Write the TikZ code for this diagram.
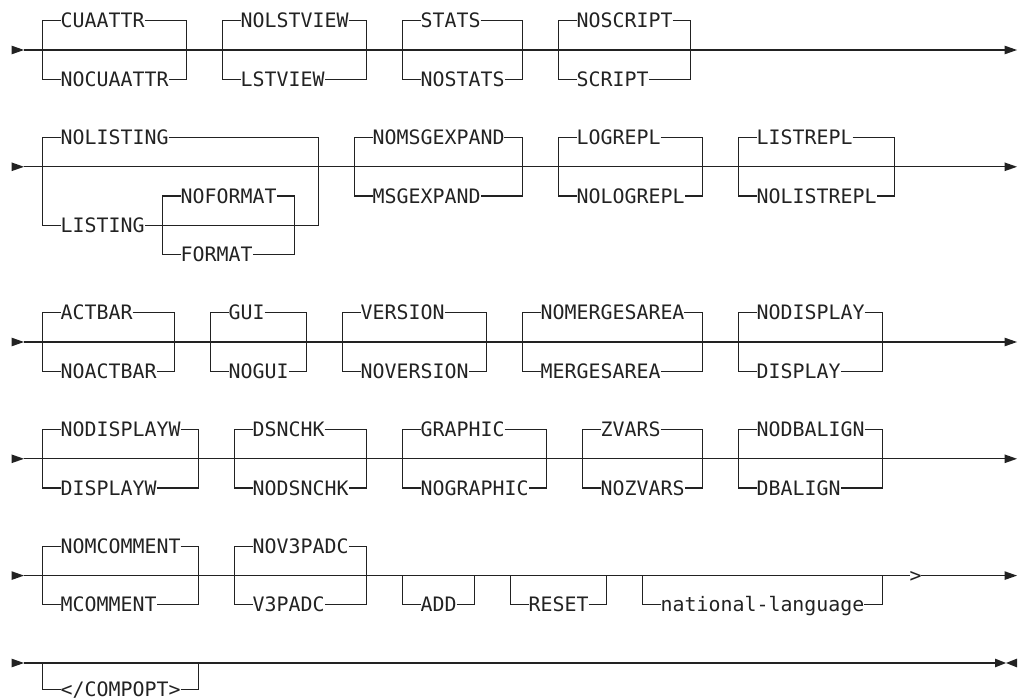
\documentclass[tikz,border=0pt]{standalone}
\usepackage{fontspec}
\newfontfamily\railfont{DejaVu Sans Mono}
\usepackage{xcolor}
\usepackage{tikz}
\usetikzlibrary{calc}
\definecolor{railc}{HTML}{222222}
\tikzset{
  rl/.style={line width=1.2pt,railc},
  kw/.style={font=\railfont\fontsize{19.9}{20}\selectfont,text=railc,inner sep=0pt,outer sep=0pt,anchor=west,text height=14.2pt,text depth=0pt}
}
% two-way choice: name, left x, main y, upper, lower, chars
\newcommand{\choicebox}[6]{%
  \node[kw] (#1-u) at ({#2+18},{#3-29.2}) {#4};
  \node[kw] (#1-l) at ({#2+18},{#3+29.2}) {#5};
  \draw[rl] (#1-u.west) -- ({#2},{#3-29.2}) -- ({#2},{#3+29.2}) -- (#1-l.west);
  \draw[rl] (#1-u.east) -- ({#2+(#6+3)*12},{#3-29.2}) -- ({#2+(#6+3)*12},{#3+29.2}) -- (#1-l.east);
}
% optional item below the line: [drop], name, left x, main y, text, chars
\newcommand{\optbox}[6][29.2]{%
  \node[kw] (#2) at ({#3+18},{#4+#1}) {#5};
  \draw[rl] ({#3},{#4}) -- ({#3},{#4+#1}) -- (#2.west);
  \draw[rl] (#2.east) -- ({#3+(#6+3)*12},{#4+#1}) -- ({#3+(#6+3)*12},{#4});
}
\newcommand{\railin}[1]{\fill[railc] (11.5,{#1-4.4}) -- (24,{#1}) -- (11.5,{#1+4.4}) -- cycle;}
\newcommand{\railout}[1]{\fill[railc] (1004.5,{#1-4.4}) -- (1017,{#1}) -- (1004.5,{#1+4.4}) -- cycle;}

\begin{document}
\begin{tikzpicture}[x=1pt,y=-1pt]
\useasboundingbox (0,0) rectangle (1019,700);

% row 1
\railin{50}
\coordinate (s1) at (24,50); \coordinate (e1) at (1005,50);
\draw[rl] (s1) -- (e1);
\railout{50}
\choicebox{cua}{42.7}{50}{CUAATTR}{NOCUAATTR}{9}
\choicebox{lst}{222.7}{50}{NOLSTVIEW}{LSTVIEW}{9}
\choicebox{sta}{402.7}{50}{STATS}{NOSTATS}{7}
\choicebox{scr}{558.7}{50}{NOSCRIPT}{SCRIPT}{8}

% row 2
\railin{166.8}
\coordinate (s2) at (24,166.8); \coordinate (e2) at (1005,166.8);
\draw[rl] (s2) -- (e2);
\railout{166.8}
\node[kw] (nolisting) at (60.7,137.6) {NOLISTING};
\node[kw] (listing) at (60.7,225.2) {LISTING};
\draw[rl] (nolisting.west) -- (42.7,137.6) -- (42.7,225.2) -- (listing.west);
\draw[rl] (nolisting.east) -- (318.7,137.6) -- (318.7,225.2) -- (listing.east);
\node[kw] (noformat) at (180.7,196) {NOFORMAT};
\node[kw] (format) at (180.7,254.4) {FORMAT};
\draw[rl] (noformat.west) -- (162.7,196) -- (162.7,254.4) -- (format.west);
\draw[rl] (noformat.east) -- (294.7,196) -- (294.7,254.4) -- (format.east);
\choicebox{msg}{354.7}{166.8}{NOMSGEXPAND}{MSGEXPAND}{11}
\choicebox{log}{558.7}{166.8}{LOGREPL}{NOLOGREPL}{9}
\choicebox{lrp}{738.7}{166.8}{LISTREPL}{NOLISTREPL}{10}

% row 3
\railin{342}
\coordinate (s3) at (24,342); \coordinate (e3) at (1005,342);
\draw[rl] (s3) -- (e3);
\railout{342}
\choicebox{act}{42.7}{342}{ACTBAR}{NOACTBAR}{8}
\choicebox{gui}{210.7}{342}{GUI}{NOGUI}{5}
\choicebox{ver}{342.7}{342}{VERSION}{NOVERSION}{9}
\choicebox{mrg}{522.7}{342}{NOMERGESAREA}{MERGESAREA}{12}
\choicebox{dsp}{738.7}{342}{NODISPLAY}{DISPLAY}{9}

% row 4
\railin{458.8}
\coordinate (s4) at (24,458.8); \coordinate (e4) at (1005,458.8);
\draw[rl] (s4) -- (e4);
\railout{458.8}
\choicebox{dpw}{42.7}{458.8}{NODISPLAYW}{DISPLAYW}{10}
\choicebox{dsn}{234.7}{458.8}{DSNCHK}{NODSNCHK}{8}
\choicebox{gra}{402.7}{458.8}{GRAPHIC}{NOGRAPHIC}{9}
\choicebox{zva}{582.7}{458.8}{ZVARS}{NOZVARS}{7}
\choicebox{dba}{738.7}{458.8}{NODBALIGN}{DBALIGN}{9}

% row 5
\railin{575.6}
\coordinate (s5) at (24,575.6); \coordinate (e5) at (1005,575.6);
\node[kw] (gt) at (909.5,575.6) {>};
\draw[rl] (s5) -- (gt.west);
\draw[rl] (gt.east) -- (e5);
\railout{575.6}
\choicebox{mcm}{42.7}{575.6}{NOMCOMMENT}{MCOMMENT}{10}
\choicebox{v3p}{234.7}{575.6}{NOV3PADC}{V3PADC}{8}
\optbox{add}{402.7}{575.6}{ADD}{3}
\optbox{rst}{510.7}{575.6}{RESET}{5}
\optbox{nat}{642.7}{575.6}{national-language}{17}

% row 6
\railin{663}
\coordinate (s6) at (24,663); \coordinate (e6) at (995,663);
\draw[rl] (s6) -- (e6);
\fill[railc] (995,658.6) -- (1006,663) -- (995,667.4) -- cycle;
\fill[railc] (1017,658.6) -- (1006,663) -- (1017,667.4) -- cycle;
\optbox[26.5]{cmp}{42.7}{663}{</COMPOPT>}{10}
\end{tikzpicture}
\end{document}
